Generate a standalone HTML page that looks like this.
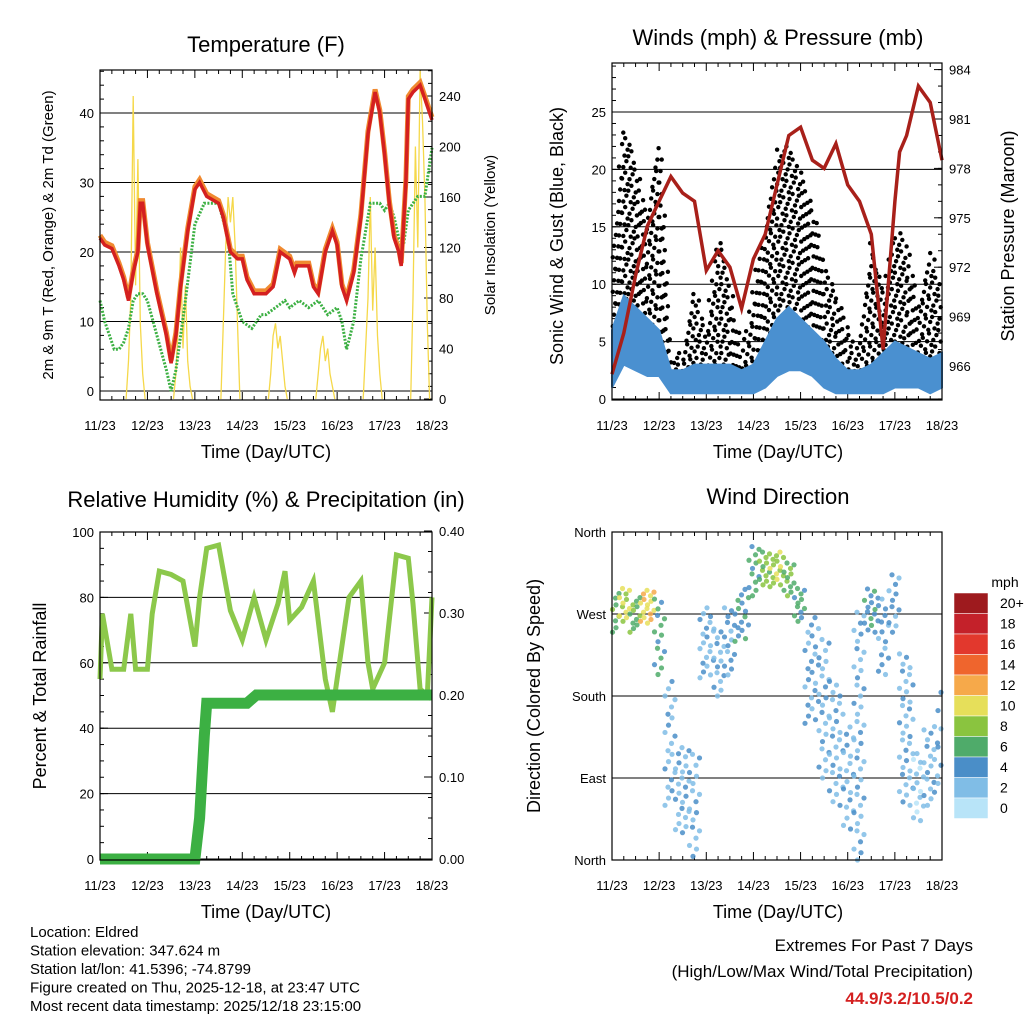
<!DOCTYPE html>
<html><head><meta charset="utf-8">
<style>
body{margin:0;background:#fff;}
svg{display:block;font-family:"Liberation Sans",Arial,sans-serif;}
</style></head>
<body>
<svg id="c" width="1024" height="1024" viewBox="0 0 1024 1024"></svg>
<script>
// ---------- data ----------
const dayLabels=["11/23","12/23","13/23","14/23","15/23","16/23","17/23","18/23"];
const tempT=[0,0.1,0.25,0.4,0.5,0.6,0.7,0.8,0.85,0.9,1.0,1.2,1.4,1.5,1.6,1.7,1.85,2.0,2.1,2.25,2.5,2.6,2.75,2.9,3.0,3.1,3.25,3.5,3.65,3.8,4.0,4.1,4.15,4.25,4.4,4.5,4.6,4.75,4.9,5.0,5.1,5.2,5.35,5.5,5.65,5.75,5.8,5.9,6.0,6.1,6.2,6.3,6.35,6.45,6.5,6.6,6.75,6.85,6.95,7.0];
const tempV=[22,21,20.5,18,16,13,17,20,27,27,21,14,8,4,8,15,23,29,30,28,27,25,20,19,19,16,14,14,15,20,19,17,18,18,18,15,14,20,23,21,15,13,17,25,37,41,43,40,34,27,22,20,18,30,42,43,44,42,40,39];
const dewT=[0,0.1,0.2,0.3,0.4,0.5,0.6,0.7,0.8,0.9,1.0,1.2,1.4,1.5,1.6,1.8,2.0,2.2,2.5,2.7,2.8,2.9,3.0,3.2,3.4,3.5,3.7,3.9,4.0,4.2,4.4,4.6,4.8,5.0,5.1,5.2,5.35,5.5,5.7,5.9,6.0,6.1,6.2,6.3,6.4,6.5,6.7,6.85,7.0];
const dewV=[13,10,8,6,6,7,9,13,14,14,13,8,3,0,3,13,24,27,27,22,14,12,10,9,11,11,12,13,12,13,12,13,11,12,10,6,10,19,27,27,26,27,25,22,21,26,28,28,35];
const solarStart=[0.55,1.55,2.55,3.55,4.55,5.55,6.55];
const solarVals=[
 [0,30,80,240,90,190,60,20,0],
 [0,20,60,120,40,90,30,10,0],
 [0,60,120,160,140,160,120,60,0],
 [0,20,50,60,40,50,30,10,0],
 [0,20,40,50,30,40,20,10,0],
 [0,40,80,160,70,120,50,20,0],
 [0,80,200,120,260,220,160,60,0]];
const gustT=[0,0.25,0.5,0.75,1,1.25,1.5,1.75,2,2.25,2.5,2.75,3,3.25,3.5,3.75,4,4.25,4.5,4.75,5,5.25,5.5,5.75,6,6.25,6.5,6.75,7];
const gustHi=[12,24,21,16,24,4,4,10,6,15,10,4,10,15,22,22,20,17,12,10,6,5,14,10,15,14,8,13,10];
const gustLo=[4,6,6,5,6,1,1,2,2,3,3,1,2,4,5,5,5,4,2,2,1,1,2,3,3,3,2,3,3];
const windHi=[6,9,8,7,6,2.5,2.5,3,3,3,3,2.5,3,5,7,8,7,6,5,3.5,2.5,2.5,3,4,5,4.5,4,3.5,4];
const windLo=[1,3,2.5,2,2,0.5,0.5,0.5,0.5,0.5,0.5,0.5,0.5,1,2,2.5,2.5,2,1,0.5,0.5,0.5,0.5,0.5,1,1,1,0.5,1];
const presT=[0,0.25,0.5,0.75,1,1.25,1.5,1.75,2,2.25,2.5,2.75,3,3.25,3.5,3.75,4,4.25,4.5,4.75,5,5.25,5.5,5.75,6,6.1,6.25,6.5,6.75,7];
const presV=[965.5,968,971.5,974.5,976,977.5,976.5,976,971.8,973,972,969.5,972.5,974,977,980,980.5,978.5,978,979.5,977,976,974,967,976,979,980,983,982,978.5];
const rhT=[0,0.05,0.25,0.5,0.65,0.75,1.0,1.1,1.25,1.5,1.75,2.0,2.1,2.25,2.5,2.75,3.0,3.25,3.5,3.75,3.9,4.0,4.25,4.5,4.75,4.9,5.0,5.25,5.5,5.65,5.75,6.0,6.25,6.5,6.6,6.75,6.9,7.0];
const rhV=[55,75,58,58,75,58,58,75,88,87,85,65,80,95,96,76,67,80,67,78,88,73,77,85,55,45,55,80,85,60,52,60,93,92,78,52,50,80];
const rainT=[0,2.0,2.1,2.2,2.25,3.1,3.3,7];
const rainV=[0,0,0.05,0.15,0.19,0.19,0.2,0.2];
const dirT=[0,0.25,0.5,0.75,1,1.25,1.5,1.75,2,2.25,2.5,2.75,3,3.25,3.5,3.75,4,4.25,4.5,4.75,5,5.25,5.5,5.75,6,6.25,6.5,6.75,7];
const dirLo=[250,260,250,260,200,60,30,0,200,180,200,240,290,300,300,290,260,150,90,60,30,0,250,200,250,60,40,60,80];
const dirHi=[300,300,290,300,290,200,130,120,280,260,280,300,350,340,340,330,300,270,250,200,150,280,300,290,320,230,120,150,200];
const dirSpd=[6,9,6,10,5,2,2,2,2,2,3,4,5,7,8,6,5,3,2,2,2,2,4,3,3,2,1,2,3];
const cbLabels=["20+","18","16","14","12","10","8","6","4","2","0"];
const cbColors=["#9e1a1e","#c4212a","#e2382d","#ef652d","#f6a94a","#e6df5a","#8ac43f","#4fab6a","#4a8ec8","#80bde6","#b8e4f8"];

// ---------- helpers ----------
const NS="http://www.w3.org/2000/svg";
const svg=document.getElementById('c');
function el(tag,attrs,parent){const e=document.createElementNS(NS,tag);for(const k in attrs)e.setAttribute(k,attrs[k]);(parent||svg).appendChild(e);return e;}
function txt(x,y,s,size,anchor,extra){const t=el('text',Object.assign({x:x,y:y,'font-size':size,'text-anchor':anchor||'middle',fill:'#000'},extra||{}));t.textContent=s;return t;}
function interp(ts,vs,t){if(t<=ts[0])return vs[0];for(let i=1;i<ts.length;i++){if(t<=ts[i]){const f=(t-ts[i-1])/(ts[i]-ts[i-1]);return vs[i-1]+f*(vs[i]-vs[i-1]);}}return vs[vs.length-1];}

function frame(b,name){
  const g=el('g',{});
  
  
  for(let i=0;i<=7;i++){
    const x=b.x0+i*(b.x1-b.x0)/7;
    el('line',{x1:x,x2:x,y1:b.y1,y2:b.y1-8,stroke:'#000','stroke-width':1},g);
    el('line',{x1:x,x2:x,y1:b.y0,y2:b.y0+8,stroke:'#000','stroke-width':1},g);
    const t=txt(x,b.y1+30,dayLabels[i],13);
    
    
    if(i<7)for(let h=1;h<4;h++){const xm=x+h*(b.x1-b.x0)/28;
      el('line',{x1:xm,x2:xm,y1:b.y1,y2:b.y1-4,stroke:'#000'},g);
      el('line',{x1:xm,x2:xm,y1:b.y0,y2:b.y0+4,stroke:'#000'},g);}
  }
  return g;
}
function yAxis(b,ticks,labels,scale,side,grid,minorStep){
  for(let i=0;i<ticks.length;i++){
    const y=scale(ticks[i]);
    if(side==='L'){
      el('line',{x1:b.x0,x2:b.x0+8,y1:y,y2:y,stroke:'#000'});
      if(grid)el('line',{x1:b.x0,x2:b.x1,y1:y,y2:y,stroke:'#000','stroke-width':1});
      const t=txt(b.x0-6,y+5,labels[i],13,'end');
      
      
    } else {
      el('line',{x1:b.x1,x2:b.x1-8,y1:y,y2:y,stroke:'#000'});
      const t=txt(b.x1+7,y+5,labels[i],13,'start');
      
      
    }
  }
  if(minorStep){
    const lo=Math.min(...ticks),hi=Math.max(...ticks);
    for(let v=lo-minorStep*4;v<=hi+minorStep*4;v+=minorStep){
      const y=scale(v); if(y<b.y0||y>b.y1)continue;
      if(side==='L')el('line',{x1:b.x0,x2:b.x0+4,y1:y,y2:y,stroke:'#000'});
      else el('line',{x1:b.x1,x2:b.x1-4,y1:y,y2:y,stroke:'#000'});
    }
  }
}
function box(b,name){const r=el('rect',{x:b.x0,y:b.y0,width:b.x1-b.x0,height:b.y1-b.y0,fill:'none',stroke:'#000','stroke-width':1.2});}
function pathFrom(ts,vs,xs,ys){return ts.map((t,i)=>(i?'L':'M')+xs(t).toFixed(1)+','+ys(vs[i]).toFixed(1)).join('');}

// ---------- Panel 1: Temperature ----------
{
const b={x0:100,x1:432,y0:70,y1:400};
const xs=d=>b.x0+d/7*(b.x1-b.x0);
const ys=v=>391-v*6.95;
const ys2=v=>399-v*50.5/40;
frame(b,'temperature');
yAxis(b,[0,10,20,30,40],["0","10","20","30","40"],ys,'L',true,2);
yAxis(b,[0,40,80,120,160,200,240],["0","40","80","120","160","200","240"],ys2,'R',false,10);
solarStart.forEach((s,i)=>{
  const vals=solarVals[i];
  const ts=vals.map((v,j)=>s+j*0.05);
  const p=el('path',{d:pathFrom(ts,vals,xs,ys2),fill:'none',stroke:'#f5d84a','stroke-width':1.3});
  
  
});
const dp=el('path',{d:pathFrom(dewT,dewV,xs,ys),fill:'none',stroke:'#3cb043','stroke-width':3,'stroke-dasharray':'2 1.5'});


const t9=el('path',{d:pathFrom(tempT,tempV.map(v=>v+0.4),xs,ys),fill:'none',stroke:'#f08a30','stroke-width':5});


const t2=el('path',{d:pathFrom(tempT,tempV,xs,ys),fill:'none',stroke:'#d42020','stroke-width':3.5});


box(b,'temperature');
const ti=txt(266,52,'Temperature (F)',22);
const xl=txt(266,458,'Time (Day/UTC)',18);
const yl=txt(0,0,'2m & 9m T (Red, Orange) & 2m Td (Green)',15,'middle',{transform:'translate(53,235) rotate(-90)'});
const y2=txt(0,0,'Solar Insolation (Yellow)',15,'middle',{transform:'translate(495,235) rotate(-90)'});
}

// ---------- Panel 2: Winds ----------
{
const b={x0:612,x1:942,y0:63,y1:400};
const xs=d=>b.x0+d/7*(b.x1-b.x0);
const ys=v=>399-v*57.4/5;
const ys2=v=>366-(v-966)*49.4/3;
frame(b,'winds');
yAxis(b,[0,5,10,15,20,25],["0","5","10","15","20","25"],ys,'L',true,1);
yAxis(b,[966,969,972,975,978,981,984],["966","969","972","975","978","981","984"],ys2,'R',false,1);
let col=0;
for(let x=b.x0+2;x<b.x1-1;x+=3.1){
  const d=(x-b.x0)/(b.x1-b.x0)*7;
  const hi=interp(gustT,gustHi,d),lo=interp(gustT,gustLo,d);
  const stp=1.0;
  const off=((col*3)%7)*stp/7;
  for(let v=lo+off;v<=hi;v+=stp){
    const jx=((Math.round(v*10)+col)%3-1)*1.2;
    const c=el('circle',{cx:x+jx,cy:ys(v),r:2.2,fill:'#000'});
    
    
  }
  col++;
}
const up=gustT.map((t,i)=>xs(t).toFixed(1)+','+ys(windHi[i]).toFixed(1));
const dn=gustT.map((t,i)=>xs(t).toFixed(1)+','+ys(windLo[i]).toFixed(1)).reverse();
const wb=el('polygon',{points:up.concat(dn).join(' '),fill:'#4a90d0',stroke:'#4a90d0','stroke-width':2});


const pr=el('path',{d:pathFrom(presT,presV,xs,ys2),fill:'none',stroke:'#a8201a','stroke-width':3.5});


box(b,'winds');
const ti=txt(778,45,'Winds (mph) & Pressure (mb)',22);
const xl=txt(778,458,'Time (Day/UTC)',18);
const yl=txt(0,0,'Sonic Wind & Gust (Blue, Black)',18,'middle',{transform:'translate(563,236) rotate(-90)'});
const y2=txt(0,0,'Station Pressure (Maroon)',18,'middle',{transform:'translate(1014,236) rotate(-90)'});
}

// ---------- Panel 3: RH & precip ----------
{
const b={x0:100,x1:432,y0:532,y1:860};
const xs=d=>b.x0+d/7*(b.x1-b.x0);
const ys=v=>859-v*3.27;
const ys2=v=>859-v*820;
frame(b,'humidity');
yAxis(b,[0,20,40,60,80,100],["0","20","40","60","80","100"],ys,'L',true,5);
yAxis(b,[0,0.1,0.2,0.3,0.4],["0.00","0.10","0.20","0.30","0.40"],ys2,'R',false,0.025);
const rh=el('path',{d:pathFrom(rhT,rhV,xs,ys),fill:'none',stroke:'#8cc84b','stroke-width':5});


const rn=el('path',{d:pathFrom(rainT,rainV,xs,ys2),fill:'none',stroke:'#3cb043','stroke-width':11});


box(b,'humidity');
const ti=txt(266,507,'Relative Humidity (%) & Precipitation (in)',22);
const xl=txt(266,918,'Time (Day/UTC)',18);
const yl=txt(0,0,'Percent & Total Rainfall',18,'middle',{transform:'translate(46,696) rotate(-90)'});
}

// ---------- Panel 4: Wind direction ----------
{
const b={x0:612,x1:942,y0:532,y1:860};
const xs=d=>b.x0+d/7*(b.x1-b.x0);
const ys=v=>860-v/360*328;
frame(b,'wind-direction');
yAxis(b,[360,270,180,90,0],["North","West","South","East","North"],ys,'L',true,0);
function spdColor(s){const i=Math.min(10,Math.max(0,Math.round(s/2)));return cbColors[10-i];}
let col=0;
for(let x=b.x0+2;x<b.x1-1;x+=3.5){
  const d=(x-b.x0)/(b.x1-b.x0)*7;
  const i=Math.min(dirT.length-1,Math.round(d/0.25));
  const lo=dirLo[i],hi=dirHi[i],s=dirSpd[i];
  const n=Math.max(3,Math.round((hi-lo)/22));
  for(let k=0;k<=n;k++){
    const v=lo+(hi-lo)*((k+((col*7)%5)/5)/ (n+1));
    const c=el('circle',{cx:x+((k%2)?1.5:-1.5),cy:ys(v),r:2.6,fill:spdColor(s+((k+col)%3)-1),opacity:0.85});
    
    
  }
  col++;
}
box(b,'wind-direction');
const ti=txt(778,504,'Wind Direction',22);
const xl=txt(778,918,'Time (Day/UTC)',18);
const yl=txt(0,0,'Direction (Colored By Speed)',18,'middle',{transform:'translate(540,696) rotate(-90)'});
const cb=el('g',{});


const u=txt(1005,587,'mph',14);
cbColors.forEach((c,i)=>{
  const y=593+i*20.5;
  const r=el('rect',{x:954,y:y,width:34,height:20.5,fill:c,stroke:'#fff','stroke-width':0.5},cb);
  
  
  const t=txt(1000,y+15,cbLabels[i],14,'start');
  
  
});
}

// ---------- footer text ----------
const info=["Location: Eldred","Station elevation: 347.624 m","Station lat/lon: 41.5396; -74.8799","Figure created on Thu, 2025-12-18, at 23:47 UTC","Most recent data timestamp: 2025/12/18 23:15:00"];
info.forEach((s,i)=>{const t=txt(30,937+i*18.5,s,15,'start');});
const e1=txt(973,951,'Extremes For Past 7 Days',17,'end');
const e2=txt(973,977,'(High/Low/Max Wind/Total Precipitation)',17,'end');
const e3=txt(973,1004,'44.9/3.2/10.5/0.2',17,'end',{fill:'#d42020','font-weight':'bold'});
</script>
</body></html>
